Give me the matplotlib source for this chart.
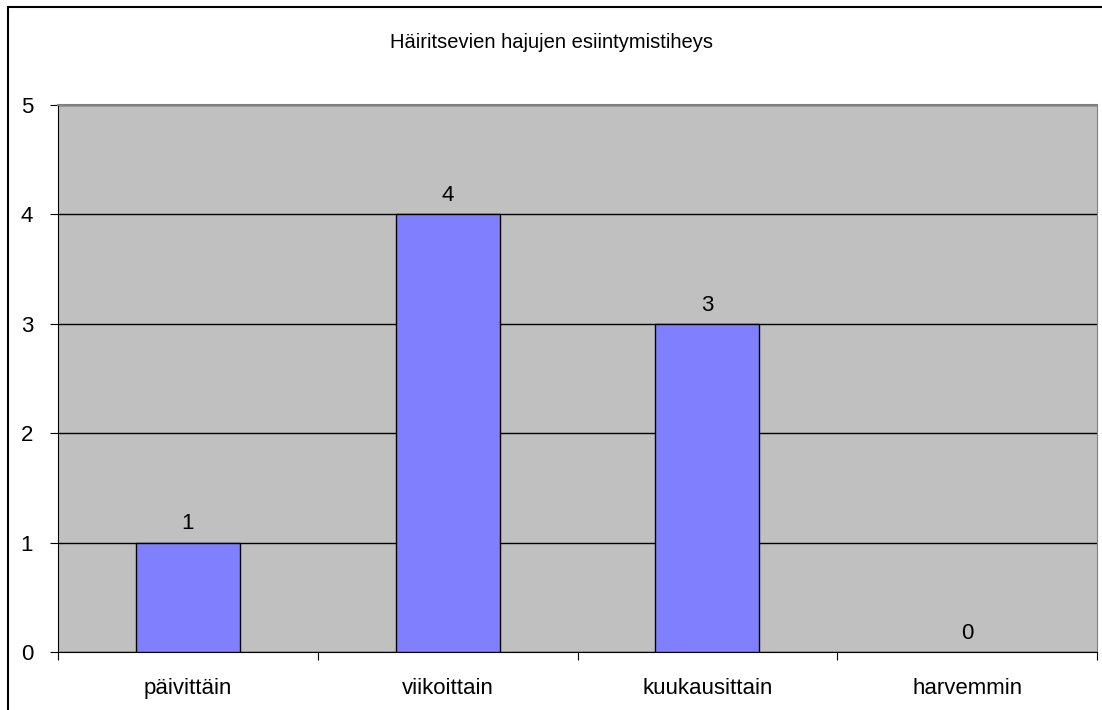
import matplotlib.pyplot as plt
from matplotlib.patches import Rectangle

categories = ["päivittäin", "viikoittain", "kuukausittain", "harvemmin"]
values = [1, 4, 3, 0]
yticks = [0, 1, 2, 3, 4, 5]
title = "Häiritsevien hajujen esiintymistiheys"

plt.rcParams["font.family"] = ["Liberation Sans", "DejaVu Sans"]

fig = plt.figure(figsize=(11.02, 7.10), dpi=100)
ax = fig.add_axes([58 / 1102, 58 / 710, (1097 - 58) / 1102, (652 - 105) / 710])

# outer chart border (right and bottom are cut off in the original)
fig.patches.append(Rectangle((8 / 1102, -0.1), 1.2, 0.1 + (710 - 7) / 710,
                             transform=fig.transFigure, fill=False,
                             edgecolor="black", linewidth=1.5))

ax.set_facecolor("#c0c0c0")
x = range(len(categories))
bars = ax.bar(x, values, width=0.4, color="#8080ff", edgecolor="black",
              linewidth=1, zorder=3)
for b, v in zip(bars, values):
    if v == 0:
        b.set_linewidth(0)

for xi, v in zip(x, values):
    ax.text(xi, v + 0.075, str(v), ha="center", va="bottom", fontsize=16, zorder=4)

ax.set_xlim(-0.5, len(categories) - 0.5)
ax.set_ylim(0, 5)
ax.set_yticks(yticks)
ax.set_yticklabels([str(t) for t in yticks], fontsize=16)
ax.set_xticks([i + 0.5 for i in range(-1, len(categories))], minor=False)
ax.set_xticklabels([])
ax.set_xticks(list(x), minor=True)
ax.set_xticklabels(categories, minor=True, fontsize=16)
ax.tick_params(axis="x", which="minor", length=0, pad=19)
ax.tick_params(axis="x", which="major", length=6, direction="out")
ax.tick_params(axis="y", length=6, direction="out", pad=12)

ax.grid(axis="y", color="black", linewidth=1, zorder=1)
ax.spines["left"].set_color("black")
ax.spines["bottom"].set_color("black")
ax.spines["top"].set_color("#808080")
ax.spines["right"].set_color("#808080")
ax.spines["top"].set_linewidth(1.5)

fig.text(0.5, 1 - 42 / 710, title, ha="center", va="center", fontsize=14.5)

fig.savefig("out.png", dpi=100)
